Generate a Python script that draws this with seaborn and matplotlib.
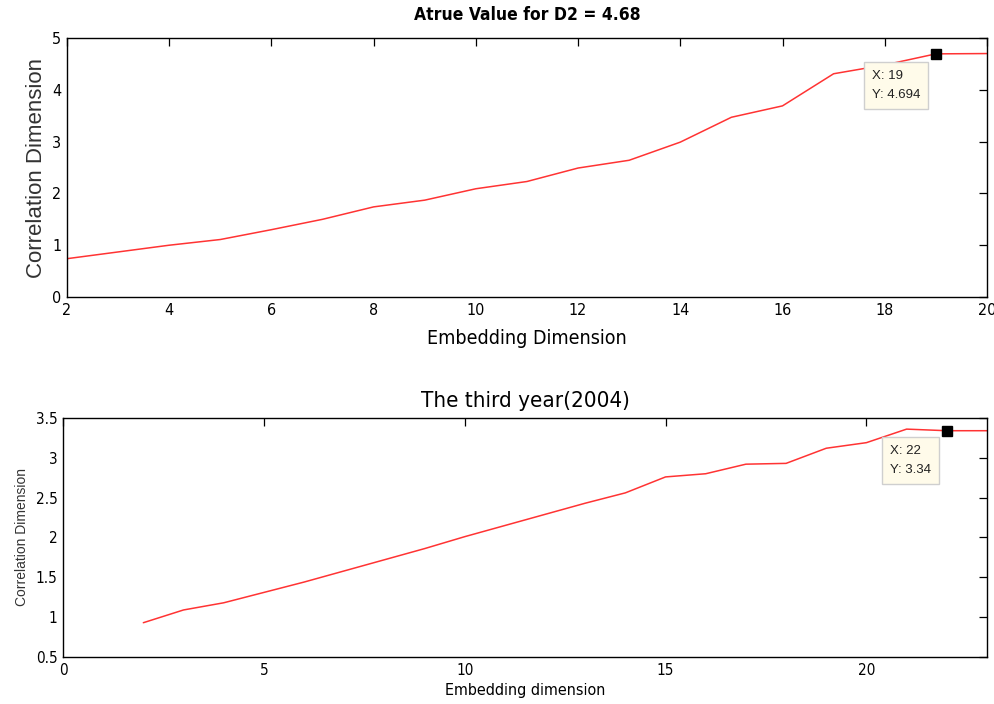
import matplotlib
matplotlib.use("Agg")
import matplotlib.pyplot as plt
import seaborn as sns
import pandas as pd
from matplotlib.ticker import FuncFormatter

# ---- data ----
top_dim = [2, 3, 4, 5, 6, 7, 8, 9, 10, 11, 12, 13, 14, 15, 16, 17, 18, 19, 20]
top_d2 = [0.74, 0.87, 1.0, 1.11, 1.30, 1.50, 1.74, 1.87, 2.09, 2.23, 2.49, 2.64, 2.99, 3.47, 3.69, 4.31, 4.48, 4.694, 4.70]
top_tip = (19, 4.694)
top_title = "Atrue Value for D2 = 4.68"

bot_dim = [2, 3, 4, 5, 6, 7, 8, 9, 10, 11, 12, 13, 14, 15, 16, 17, 18, 19, 20, 21, 22, 23]
bot_d2 = [0.93, 1.09, 1.18, 1.31, 1.44, 1.58, 1.72, 1.86, 2.01, 2.15, 2.29, 2.43, 2.56, 2.76, 2.80, 2.92, 2.93, 3.12, 3.19, 3.36, 3.34, 3.34]
bot_tip = (22, 3.34)
bot_title = "The third year(2004)"

sns.set_style("white")
plt.rcParams["font.family"] = ["DejaVu Sans"]
plt.rcParams["font.stretch"] = "condensed"
plt.rcParams["text.color"] = "black"
plt.rcParams["axes.labelcolor"] = "black"
plt.rcParams["axes.titlecolor"] = "black"

fig = plt.figure(figsize=(9.95, 7.04), dpi=100)
ax1 = fig.add_axes([0.0673, 0.5781, 0.9246, 0.3679])
ax2 = fig.add_axes([0.0633, 0.0668, 0.9286, 0.3395])

line_color = "#ff3333"
df1 = pd.DataFrame({"x": top_dim, "y": top_d2})
df2 = pd.DataFrame({"x": bot_dim, "y": bot_d2})
sns.lineplot(data=df1, x="x", y="y", ax=ax1, color=line_color, lw=1.1)
sns.lineplot(data=df2, x="x", y="y", ax=ax2, color=line_color, lw=1.1)

fmt = FuncFormatter(lambda v, p: f"{v:g}")

def style(ax, xlim, ylim, xt, yt, fs):
    ax.set_xlim(*xlim)
    ax.set_ylim(*ylim)
    ax.set_xticks(xt)
    ax.set_yticks(yt)
    ax.xaxis.set_major_formatter(fmt)
    ax.yaxis.set_major_formatter(fmt)
    ax.tick_params(direction="in", top=True, right=True, length=6, width=0.9,
                   labelsize=fs, colors="black", pad=4)
    for s in ax.spines.values():
        s.set_color("black")
        s.set_linewidth(1.0)

style(ax1, (2, 20), (0, 5), range(2, 21, 2), range(0, 6), 11.5)
style(ax2, (0, 23), (0.5, 3.5), range(0, 21, 5), [0.5, 1, 1.5, 2, 2.5, 3, 3.5], 11)

ax1.set_title(top_title, fontsize=12.5, fontweight="bold", pad=13)
ax1.set_xlabel("Embedding Dimension", fontsize=14, labelpad=8)
ax1.set_ylabel("Correlation Dimension", fontsize=16, family="Liberation Sans",
               fontstretch="normal", color="#333333", labelpad=4)

ax2.set_title(bot_title, fontsize=16, pad=8)
ax2.set_xlabel("Embedding dimension", fontsize=11.5, labelpad=4)
ax2.set_ylabel("Correlation Dimension", fontsize=10, family="Liberation Sans",
               fontstretch="normal", color="#333333", labelpad=5)

def datatip(ax, pt, txt, off):
    ax.plot([pt[0]], [pt[1]], marker="s", color="black", ms=7, zorder=5)
    ax.annotate(txt, xy=pt, xytext=off, textcoords="offset pixels",
                ha="left", va="top", fontsize=9.5, family="Liberation Sans",
                fontstretch="normal", color="#222222", linespacing=1.8,
                bbox=dict(boxstyle="square,pad=0.6", fc="#fffbea", ec="#cfcfcf", lw=1))

datatip(ax1, top_tip, f"X: {top_tip[0]}\nY: {top_tip[1]}", (-64, -16))
datatip(ax2, bot_tip, f"X: {bot_tip[0]}\nY: {bot_tip[1]}", (-57, -14))

fig.savefig("out.png", dpi=100)
